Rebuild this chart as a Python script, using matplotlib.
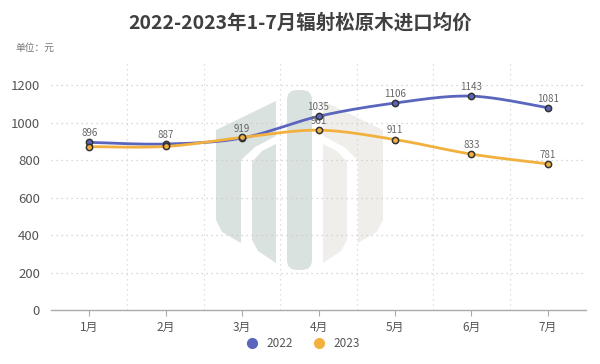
import matplotlib
matplotlib.use("Agg")
import matplotlib.pyplot as plt
import numpy as np
from matplotlib.patches import Polygon, FancyBboxPatch
from matplotlib.lines import Line2D

plt.rcParams['font.family'] = ['Noto Sans CJK SC', 'DejaVu Sans']

months = ['1月', '2月', '3月', '4月', '5月', '6月', '7月']
price_2022 = [896, 887, 919, 1035, 1106, 1143, 1081]
price_2023 = [873, 874, 922, 961, 911, 833, 781]
labels_2023 = [None, None, None, 961, 911, 833, 781]
yticks = [0, 200, 400, 600, 800, 1000, 1200]

blue = '#5a66bd'
orange = '#f2b03e'


def smooth(x, y, n=30, t=0.5):
    # catmull-rom style bezier between points
    x = np.asarray(x, float)
    y = np.asarray(y, float)
    xs, ys = [], []
    for i in range(len(x) - 1):
        p0 = np.array([x[max(i - 1, 0)], y[max(i - 1, 0)]])
        p1 = np.array([x[i], y[i]])
        p2 = np.array([x[i + 1], y[i + 1]])
        p3 = np.array([x[min(i + 2, len(x) - 1)], y[min(i + 2, len(x) - 1)]])
        c1 = p1 + (p2 - p0) * t / 3
        c2 = p2 - (p3 - p1) * t / 3
        s = np.linspace(0, 1, n)[:, None]
        pts = ((1 - s) ** 3) * p1 + 3 * ((1 - s) ** 2) * s * c1 + 3 * (1 - s) * s ** 2 * c2 + s ** 3 * p2
        xs.extend(pts[:, 0])
        ys.extend(pts[:, 1])
    return xs, ys


fig = plt.figure(figsize=(6, 3.64), dpi=100)

# watermark logo behind the chart
bg = fig.add_axes([0, 0, 1, 1], zorder=0)
bg.set_xlim(0, 600)
bg.set_ylim(364, 0)
bg.axis('off')
green = '#d9e2df'
beige = '#efeeea'
outer = [(216, 130), (276, 101), (276, 136), (255, 147), (241, 160), (241, 243), (222, 232), (216, 220)]
inner = [(252, 162), (262, 151), (276, 144), (276, 263), (258, 251), (252, 240)]
bg.add_patch(Polygon(outer, closed=True, color=green, lw=0))
bg.add_patch(Polygon(inner, closed=True, color=green, lw=0))
bg.add_patch(Polygon([(599 - a, b) for a, b in outer], closed=True, color=beige, lw=0))
bg.add_patch(Polygon([(599 - a, b) for a, b in inner], closed=True, color=beige, lw=0))
bg.add_patch(FancyBboxPatch((287, 90), 25, 180, boxstyle='round,pad=0,rounding_size=10',
                            color=green, lw=0))

ax = fig.add_axes([51 / 600, 54 / 364, 535 / 600, 247 / 364], zorder=1)
ax.set_facecolor('none')

x = np.arange(len(months))
for vals, col in [(price_2022, blue), (price_2023, orange)]:
    sx, sy = smooth(x, vals)
    ax.plot(sx, sy, color=col, lw=2, zorder=3)
    ax.plot(x, vals, 'o', ms=4.5, mfc=col, mec='#333333', mew=1.1, zorder=4)

for i, v in enumerate(price_2022):
    ax.annotate(str(v), (i, v), xytext=(0, 3), textcoords='offset points',
                ha='center', va='bottom', fontsize=7, color='#666666')
for i, v in enumerate(labels_2023):
    if v is not None:
        ax.annotate(str(v), (i, v), xytext=(0, 3), textcoords='offset points',
                    ha='center', va='bottom', fontsize=7, color='#666666')

ax.set_xlim(-0.5, 6.5)
ax.set_ylim(0, 1320)
ax.set_yticks(yticks)
ax.set_xticks(x)
ax.set_xticklabels(months)
ax.tick_params(axis='y', length=0, labelsize=9.5, colors='#555555', pad=8)
ax.tick_params(axis='x', length=4, color='#aaaaaa', labelsize=8.5, labelcolor='#555555', pad=4)

for v in yticks[1:]:
    ax.axhline(v, color='#cccccc', lw=0.9, ls=(0, (1, 3)), zorder=1)
for b in np.arange(0.5, 6, 1):
    ax.axvline(b, color='#d5d5d5', lw=0.9, ls=(0, (1, 3)), zorder=1)

for s in ['top', 'right', 'left']:
    ax.spines[s].set_visible(False)
ax.spines['bottom'].set_color('#aaaaaa')
ax.spines['bottom'].set_linewidth(1)

fig.text(0.5, 0.938, '2022-2023年1-7月辐射松原木进口均价', ha='center', va='center',
         fontsize=14, fontweight='bold', color='#404040')
fig.text(0.025, 0.868, '单位：元', ha='left', va='center', fontsize=7, color='#777777')

handles = [Line2D([], [], ls='none', marker='o', ms=7, color=blue, label='2022'),
           Line2D([], [], ls='none', marker='o', ms=7, color=orange, label='2023')]
fig.legend(handles=handles, loc='center', bbox_to_anchor=(0.5, 0.057), ncol=2, frameon=False,
           fontsize=8.5, labelcolor='#555555', handletextpad=0.2, columnspacing=1.2)

fig.savefig('out.png', dpi=100)
